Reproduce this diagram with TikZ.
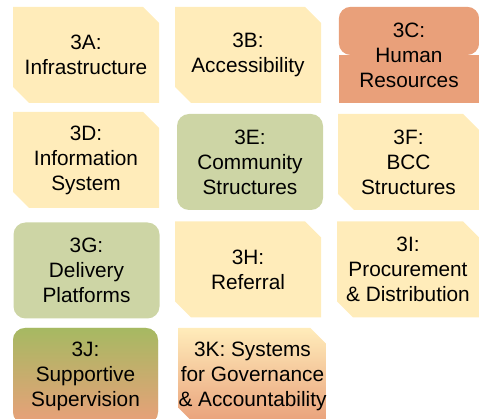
\documentclass[tikz,border=0pt]{standalone}
\usepackage{fontspec}
\setmainfont{Liberation Sans}
\usetikzlibrary{backgrounds}
\definecolor{boxyellow}{RGB}{255,236,186}
\definecolor{boxgreen}{RGB}{205,213,165}
\definecolor{boxorange}{RGB}{233,160,122}
\definecolor{boxolive}{RGB}{166,185,98}

\begin{document}
\begin{tikzpicture}[x=1pt, y=-1pt]
    \tikzset{pillar/.style={rectangle, minimum height=96pt, inner sep=0pt,
            align=center, font=\fontsize{20.8}{25}\selectfont},
        snipbox/.style={pillar, path picture={
            \path [#1] (path picture bounding box.north west)
                -- ([xshift=-16pt]path picture bounding box.north east)
                -- ([yshift=-16pt]path picture bounding box.north east)
                -- (path picture bounding box.south east)
                -- ([xshift=16pt]path picture bounding box.south west)
                -- ([yshift=16pt]path picture bounding box.south west)
                -- cycle;}},
        snipbox/.default={fill=boxyellow},
        roundbox/.style={pillar, rounded corners=12pt, fill=boxgreen}
    }
    \clip (0,0) rectangle (479,419);
    % snipped yellow boxes
    \foreach \name/\x/\y/\w/\label in
        {A/86/55/146/{3A:\\Infrastructure},
         B/248/55/146/{3B:\\Accessibility},
         D/86/160/146/{3D:\\Information\\System},
         F/408.5/162/141/{3F:\\BCC\\Structures},
         H/248/269.5/146/{3H:\\Referral},
         I/408/269.5/142/{3I:\\Procurement\\\& Distribution}} {
        \node [snipbox, minimum width=\w pt] (\name) at (\x,\y) {\label};
    }
    % rounded green boxes
    \foreach \name/\x/\y/\label in
        {E/250/162/{3E:\\Community\\Structures},
         G/86.5/270.5/{3G:\\Delivery\\Platforms}} {
        \node [roundbox, minimum width=146pt] (\name) at (\x,\y) {\label};
    }
    % the odd ones
    \node [pillar, minimum width=140pt] (C) at (409,55) {3C:\\Human\\Resources};
    \begin{scope}[on background layer]
        \fill [boxorange, rounded corners=12pt] (C.north west) rectangle (C.east);
        \fill [boxorange] (C.west) rectangle (C.south east);
    \end{scope}
    \node [roundbox, minimum width=145pt, top color=boxolive,
        bottom color=boxorange] (J) at (85.5,376) {3J:\\Supportive\\Supervision};
    \node [snipbox={top color=boxyellow, bottom color=boxorange},
        minimum width=145pt] (K) at (252.5,376)
        {3K: Systems\\for Governance\\\& Accountability};
\end{tikzpicture}
\end{document}
